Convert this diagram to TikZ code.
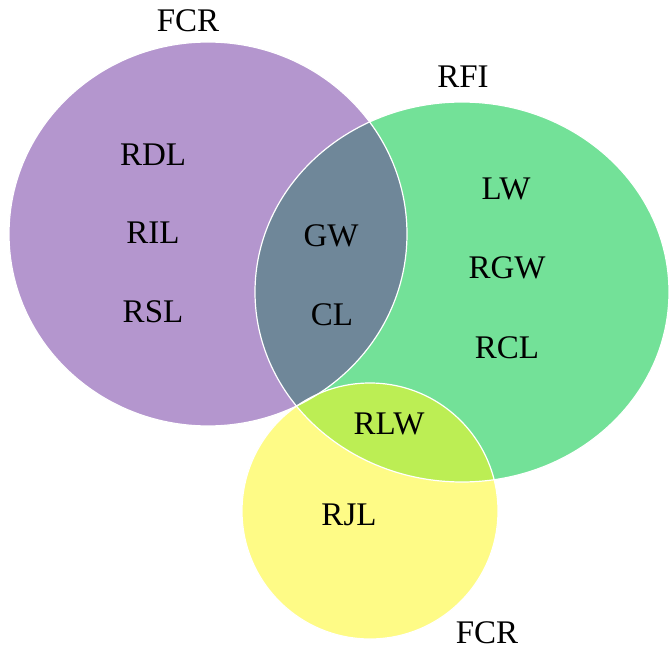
\documentclass[tikz,border=0pt]{standalone}
\usepackage{fontspec}
\setmainfont{Liberation Serif}

\definecolor{fcrpurple}{RGB}{180,150,206}
\definecolor{rfigreen}{RGB}{115,225,152}
\definecolor{jlyellow}{RGB}{254,251,134}
\definecolor{gwslate}{RGB}{111,135,153}
\definecolor{rlwlime}{RGB}{188,238,84}

\newcommand{\fcrleft}{(p) ellipse [x radius=199pt, y radius=192pt]}
\newcommand{\rfiright}{(g) ellipse [x radius=207pt, y radius=190pt]}
\newcommand{\fcrlow}{(y) circle [radius=128pt]}

\begin{document}
\begin{tikzpicture}[x=1pt,y=-1pt,
    lbl/.style={font=\fontsize{33}{40}\selectfont, inner sep=0pt,
        text height=21.8pt, text depth=0pt}]

\useasboundingbox (0,0) rectangle (669,652);

\coordinate (p) at (208,234);
\coordinate (g) at (462,292);
\coordinate (y) at (370,511);

\fill[fcrpurple] \fcrleft;
\fill[rfigreen] \rfiright;
\fill[jlyellow] \fcrlow;

\begin{scope}
    \clip \fcrleft;
    \fill[gwslate] \rfiright;
\end{scope}
\begin{scope}
    \clip \rfiright;
    \fill[rlwlime] \fcrlow;
\end{scope}

\draw[white, line width=1.2pt] \fcrleft;
\draw[white, line width=1.2pt] \rfiright;
\draw[white, line width=1.2pt] \fcrlow;

\node[lbl] (fcrtop) at (188,21) {FCR};
\node[lbl] (rfi) at (463,77) {RFI};
\node[lbl] (fcrbot) at (487,633) {FCR};

\node[lbl] (rdl) at (153,155) {RDL};
\node[lbl] (ril) at (153,233) {RIL};
\node[lbl] (rsl) at (153,312) {RSL};

\node[lbl] (gw) at (331,236) {GW};
\node[lbl] (cl) at (332,315) {CL};

\node[lbl] (lw) at (506,189) {LW};
\node[lbl] (rgw) at (507,268) {RGW};
\node[lbl] (rcl) at (507,348) {RCL};

\node[lbl] (rlw) at (389,424) {RLW};
\node[lbl] (rjl) at (349,515) {RJL};

\end{tikzpicture}
\end{document}
